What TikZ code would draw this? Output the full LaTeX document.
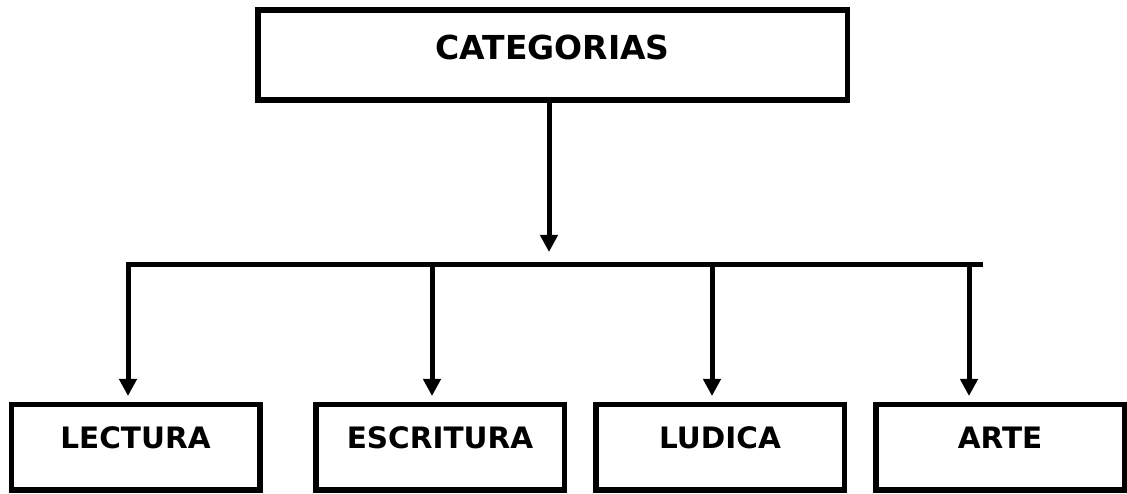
\documentclass[tikz,border=0pt]{standalone}
\usepackage{fontspec}
\setmainfont{DejaVu Sans}
\usetikzlibrary{arrows.meta}

\tikzset{
  catbox/.style={draw, line width=5.5pt, inner sep=0pt, anchor=base,
    font=\bfseries\fontsize{29.5}{35}\selectfont,
    text height=44.25pt, text depth=41.25pt, minimum width=248.5pt},
  topbox/.style={catbox, font=\bfseries\fontsize{33}{40}\selectfont,
    text height=50pt, text depth=40pt, minimum width=589.5pt},
  arr/.style={line width=5pt, -{Triangle[width=17pt,length=17pt]}}
}

\begin{document}
\begin{tikzpicture}[x=1pt,y=1pt]
\useasboundingbox (0,0) rectangle (1127,494);

\node [topbox] (cat) at (552.5,434) {CATEGORIAS};

\node [catbox] (lec) at (135.5,45) {LECTURA};
\node [catbox] (esc) at (440,45) {ESCRITURA};
\node [catbox] (lud) at (720,45) {LUDICA};
\node [catbox] (art) at (1000,45) {ARTE};

\coordinate (hub) at (549,229.5);
\coordinate (busend) at (983,229.5);
\coordinate (d1) at (128,229.5);
\coordinate (d2) at (432,229.5);
\coordinate (d3) at (712,229.5);
\coordinate (d4) at (969,229.5);

\draw [arr, shorten >=12.5pt] (hub |- cat.south) -- (hub);
\draw [arr, shorten >=6pt] (busend) -- (d1) -- (d1 |- lec.north);
\foreach \d/\b in {d2/esc, d3/lud, d4/art}
{
\draw [arr, shorten >=6pt] (\d) -- (\d |- \b.north);
}

\end{tikzpicture}
\end{document}
